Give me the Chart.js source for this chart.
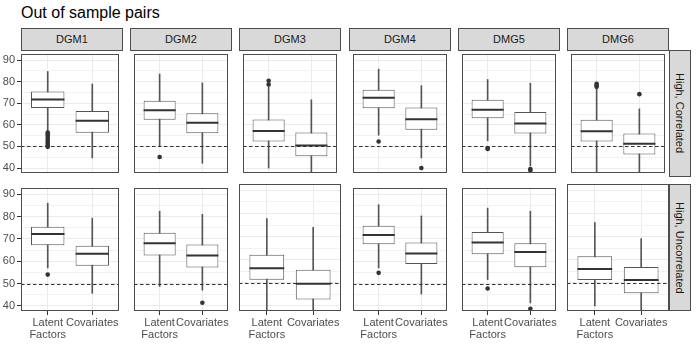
<!DOCTYPE html>
<html>
<head>
<meta charset="utf-8">
<script src="https://cdn.jsdelivr.net/npm/chart.js@4.4.1/dist/chart.umd.min.js"></script>
<style>
  body { margin: 0; background: #fff; }
  #wrap { position: relative; width: 698px; height: 360px; overflow: hidden; font-family: 'Liberation Sans', Arial, sans-serif; }
  .title { position: absolute; left: 21px; top: 5px; font-size: 16px; line-height: 16px; color: #000; white-space: nowrap; }
  .strip { position: absolute; box-sizing: border-box; background: #d9d9d9; border: 1px solid #4d4d4d; color: #1a1a1a; font-size: 11px; text-align: center; white-space: nowrap; }
  .strip--right { writing-mode: vertical-rl; display: flex; align-items: center; justify-content: center; }
  canvas { position: absolute; }
</style>
</head>
<body>
<div id="wrap">
  <div class="title">Out of sample pairs</div>
</div>
<script>
// facets and groups
const panelNames = ['DGM1', 'DGM2', 'DGM3', 'DGM4', 'DMG5', 'DMG6'];
const rowNames   = ['High, Correlated', 'High, Uncorrelated'];
const groups     = [['Latent', 'Factors'], 'Covariates'];
const yTicks     = [40, 50, 60, 70, 80, 90];
const yMinor     = [45, 55, 65, 75, 85];
const refValue   = 50;

// High, Correlated — per panel: [Latent Factors, Covariates]
const corrLower  = [[57.3, 44.7], [50.2, 42.2], [40.0, 36.0], [55.2, 44.7], [52.6, 41.0], [36.0, 36.0]];
const corrQ1     = [[67.8, 56.3], [62.3, 56.1], [52.3, 45.4], [67.7, 57.7], [63.0, 56.0], [52.3, 46.3]];
const corrMedian = [[71.7, 61.9], [66.8, 61.0], [57.1, 50.4], [72.5, 62.6], [67.0, 60.6], [57.0, 51.3]];
const corrQ3     = [[75.4, 66.4], [71.2, 65.4], [62.5, 56.5], [76.3, 68.0], [71.6, 66.0], [62.3, 56.0]];
const corrUpper  = [[84.7, 78.9], [83.5, 79.4], [77.7, 71.6], [85.8, 78.1], [81.0, 79.3], [76.7, 67.4]];
const corrOut    = [
  [[56.4, 55.6, 54.8, 53.9, 53.0, 52.2, 51.3, 50.4, 49.8], []],
  [[45.1], []],
  [[78.7, 80.4], []],
  [[52.3], [40.0]],
  [[49.3, 48.8], [39.5, 38.9]],
  [[77.6, 78.3, 79.0], [74.2]],
];

// High, Uncorrelated
const uncLower   = [[57.0, 45.6], [48.7, 47.0], [36.0, 36.0], [57.0, 45.3], [51.8, 41.3], [39.9, 36.0]];
const uncQ1      = [[67.2, 58.0], [62.6, 57.2], [51.3, 42.7], [67.6, 58.8], [63.1, 57.3], [51.2, 45.4]];
const uncMedian  = [[72.2, 63.3], [68.0, 62.6], [56.3, 49.5], [71.8, 63.5], [68.4, 64.1], [55.9, 51.2]];
const uncQ3      = [[75.4, 66.9], [72.7, 67.5], [62.1, 55.6], [75.9, 68.4], [73.1, 68.1], [61.5, 56.8]];
const uncUpper   = [[86.0, 79.3], [82.4, 81.0], [77.8, 74.0], [85.3, 80.3], [83.8, 82.4], [76.1, 69.1]];
const uncOut     = [
  [[54.0], []],
  [[], [41.4]],
  [[], []],
  [[54.8], []],
  [[47.8], [38.7]],
  [[], []],
];

const rowStats = [
  { lower: corrLower, q1: corrQ1, median: corrMedian, q3: corrQ3, upper: corrUpper, out: corrOut },
  { lower: uncLower,  q1: uncQ1,  median: uncMedian,  q3: uncQ3,  upper: uncUpper,  out: uncOut  },
];

// layout (px)
const panelLeft = [21, 130, 239, 349, 458, 567];
const panelW    = 102;
const panelTop  = [50, 184];
const panelH    = 127;
const yAxisW    = 21;
const xAxisH    = 45;

Chart.defaults.font.family = "'Liberation Sans', Arial, sans-serif";
Chart.defaults.font.size = 11;

const facetPlugin = {
  id: 'facet',
  afterDatasetsDraw(chart, args, opts) {
    const { ctx, chartArea: a, scales: { y } } = chart;
    const meta = chart.getDatasetMeta(1);
    ctx.save();
    ctx.beginPath();
    ctx.rect(a.left, a.top, a.right - a.left, a.bottom - a.top);
    ctx.clip();
    // medians
    ctx.strokeStyle = '#333333';
    ctx.lineWidth = 2;
    meta.data.forEach((bar, i) => {
      const py = y.getPixelForValue(opts.medians[i]);
      ctx.beginPath();
      ctx.moveTo(bar.x - bar.width / 2, py);
      ctx.lineTo(bar.x + bar.width / 2, py);
      ctx.stroke();
    });
    // reference line
    const ry = Math.round(y.getPixelForValue(refValue)) + 0.5;
    ctx.strokeStyle = '#333333';
    ctx.lineWidth = 1;
    ctx.setLineDash([3.5, 2.5]);
    ctx.beginPath();
    ctx.moveTo(a.left, ry);
    ctx.lineTo(a.right, ry);
    ctx.stroke();
    ctx.restore();
    // panel border
    ctx.save();
    ctx.strokeStyle = '#4d4d4d';
    ctx.lineWidth = 1;
    ctx.strokeRect(a.left + 0.5, a.top + 0.5, a.right - a.left - 1, a.bottom - a.top - 1);
    ctx.restore();
  }
};

const wrap = document.getElementById('wrap');

function addStrip(text, left, top, w, h, right) {
  const d = document.createElement('div');
  d.className = right ? 'strip strip--right' : 'strip';
  d.textContent = text;
  Object.assign(d.style, { left: left + 'px', top: top + 'px', width: w + 'px', height: h + 'px' });
  if (!right) d.style.lineHeight = (h - 2) + 'px';
  wrap.appendChild(d);
}

function makePanel(r, c) {
  const st = rowStats[r];
  const showY = c === 0;
  const showX = r === rowStats.length - 1;
  const leftPad = showY ? yAxisW : 0;
  const botPad = showX ? xAxisH : 0;

  const canvas = document.createElement('canvas');
  canvas.width = panelW + leftPad;
  canvas.height = panelH + botPad;
  canvas.style.left = (panelLeft[c] - leftPad) + 'px';
  canvas.style.top = panelTop[r] + 'px';
  wrap.appendChild(canvas);

  const xs = [1, 2];
  const outliers = [];
  st.out[c].forEach((vals, g) => vals.forEach(v => outliers.push({ x: xs[g], y: v })));

  new Chart(canvas, {
    type: 'bar',
    data: {
      datasets: [
        {
          type: 'scatter',
          data: outliers,
          pointRadius: 2.3,
          pointBackgroundColor: '#333333',
          pointBorderWidth: 0,
          order: 1,
        },
        {
          data: xs.map((x, g) => ({ x, y: [st.q1[c][g], st.q3[c][g]] })),
          backgroundColor: '#ffffff',
          borderColor: '#555555',
          borderWidth: 1,
          borderSkipped: false,
          grouped: false,
          categoryPercentage: 1,
          barPercentage: 0.75,
          order: 2,
        },
        {
          data: xs.map((x, g) => ({ x, y: [st.lower[c][g], st.upper[c][g]] })),
          backgroundColor: '#555555',
          borderWidth: 0,
          grouped: false,
          barThickness: 1,
          order: 3,
        },
      ],
    },
    options: {
      responsive: false,
      animation: false,
      devicePixelRatio: 1,
      layout: { padding: 0 },
      plugins: {
        legend: { display: false },
        tooltip: { enabled: false },
        facet: { medians: xs.map((x, g) => st.median[c][g]) },
      },
      scales: {
        x: {
          type: 'linear',
          min: 0.4,
          max: 2.6,
          offset: false,
          border: { display: false },
          grid: {
            offset: false,
            color: '#ebebeb',
            lineWidth: 1,
            drawTicks: showX,
            tickLength: 4,
            tickColor: '#333333',
          },
          ticks: {
            display: showX,
            autoSkip: false,
            maxRotation: 0,
            padding: 2,
            color: '#4d4d4d',
            font: { size: 11, lineHeight: 1.06 },
            callback: (v, i) => groups[i],
          },
          afterBuildTicks: (s) => { s.ticks = xs.map(v => ({ value: v })); },
          afterFit: (s) => { s.height = botPad; s.paddingLeft = 0; s.paddingRight = 0; },
        },
        y: {
          type: 'linear',
          min: 37.7,
          max: 92.8,
          border: { display: false },
          grid: {
            color: (ctx) => (ctx.tick && ctx.tick.value % 10 === 0) ? '#ebebeb' : '#f2f2f2',
            lineWidth: 1,
            drawTicks: showY,
            tickLength: 4,
            tickColor: (ctx) => (ctx.tick && ctx.tick.value % 10 === 0) ? '#333333' : 'rgba(0,0,0,0)',
          },
          ticks: {
            display: showY,
            autoSkip: false,
            padding: 2,
            color: '#4d4d4d',
            font: { size: 11 },
            callback: (v) => (v % 10 === 0 ? String(v) : ''),
          },
          afterBuildTicks: (s) => {
            s.ticks = yTicks.concat(yMinor).sort((a, b) => a - b).map(v => ({ value: v }));
          },
          afterFit: (s) => { s.width = leftPad; s.paddingTop = 0; s.paddingBottom = 0; },
        },
      },
    },
    plugins: [facetPlugin],
  });
}

panelNames.forEach((name, c) => addStrip(name, panelLeft[c], 28, panelW, 23, false));
rowNames.forEach((name, r) => addStrip(name, panelLeft[5] + panelW, panelTop[r], 22, panelH, true));

for (let r = 0; r < rowStats.length; r++) {
  for (let c = 0; c < panelNames.length; c++) makePanel(r, c);
}
</script>
</body>
</html>
